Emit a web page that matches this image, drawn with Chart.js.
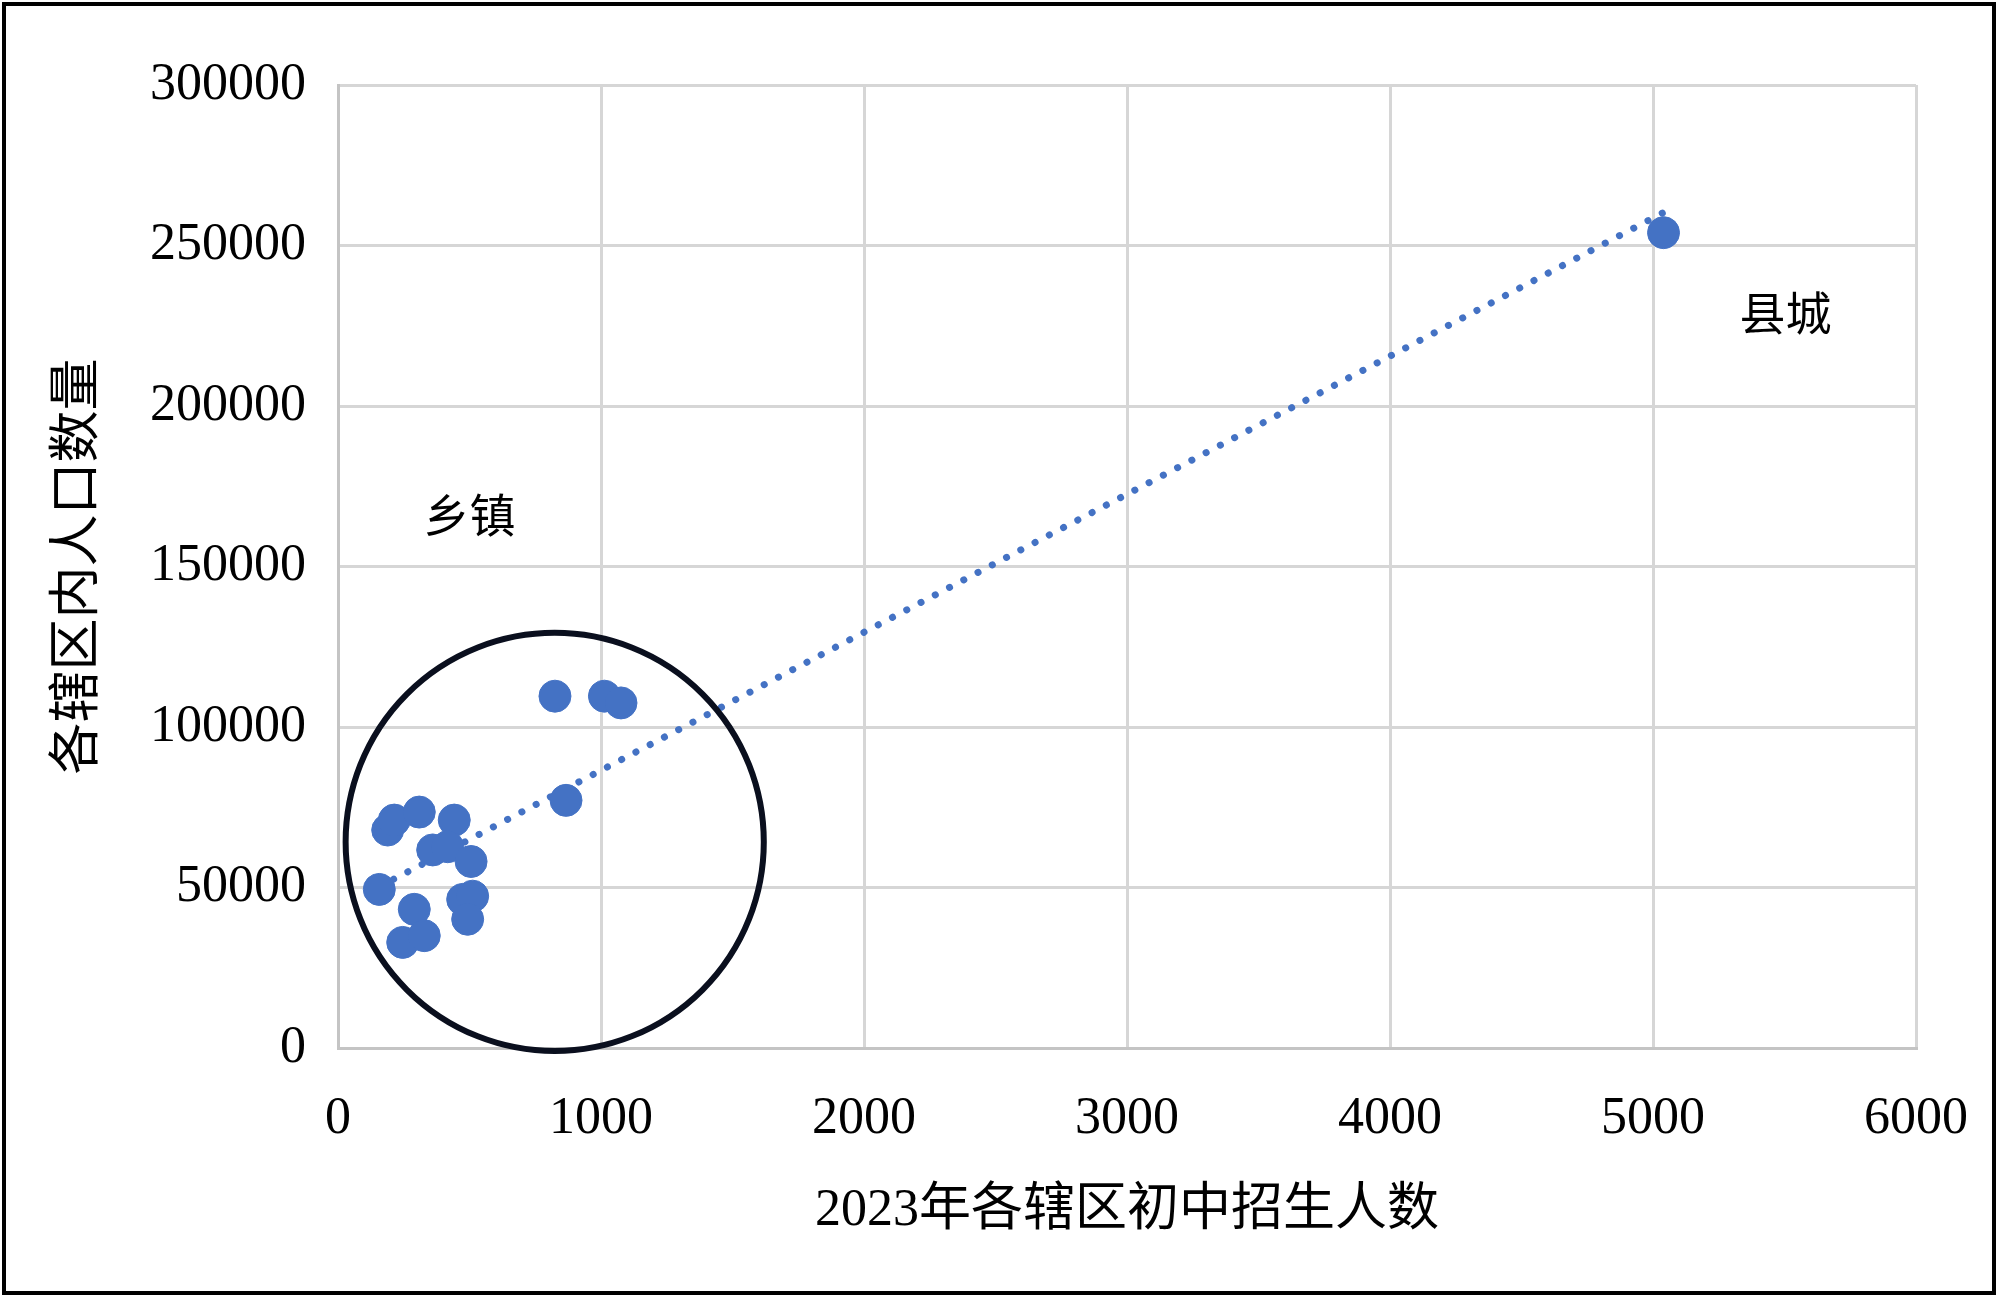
<!DOCTYPE html>
<html>
<head>
<meta charset="utf-8">
<script src="https://cdn.jsdelivr.net/npm/chart.js@4/dist/chart.umd.min.js"></script>
<style>
  html, body { margin: 0; padding: 0; background: #fff; }
  #wrap { position: relative; width: 2000px; height: 1299px; }
  #frame { position: absolute; left: 2px; top: 2px; width: 1994px; height: 1293px; border: 4px solid #000; box-sizing: border-box; pointer-events: none; }
</style>
</head>
<body>
<div id="wrap">
  <canvas id="myChart" width="2000" height="1299"></canvas>
  <div id="frame"></div>
</div>
<script>
// Data
const enrollment = [5040, 825, 1013, 1076, 867, 157, 189, 214, 309, 442, 360, 417, 506, 474, 512, 493, 290, 246, 328];
const population = [254000, 109600, 109600, 107500, 77150, 49400, 67900, 71000, 73500, 71000, 61700, 62700, 58100, 46300, 47300, 40100, 43200, 32900, 35000];

const xMax = 6000, xStep = 1000;
const yMax = 300000, yStep = 50000;

const xTitle = "2023年各辖区初中招生人数";
const yTitle = "各辖区内人口数量";

const points = enrollment.map((x, i) => ({ x: x, y: population[i] }));

// linear trendline (least squares), spanning min..max x like Excel
const n = enrollment.length;
const mx = enrollment.reduce((a, b) => a + b, 0) / n;
const my = population.reduce((a, b) => a + b, 0) / n;
let sxy = 0, sxx = 0;
enrollment.forEach((x, i) => { sxy += (x - mx) * (population[i] - my); sxx += (x - mx) * (x - mx); });
const slope = sxy / sxx;
const intercept = my - slope * mx;
const x0 = Math.min(...enrollment), x1 = Math.max(...enrollment);
const trend = [{ x: x0, y: intercept + slope * x0 }, { x: x1, y: intercept + slope * x1 }];

const font = "'Liberation Serif', 'Times New Roman', 'Noto Sans CJK SC', serif";
const blue = "#4472C4";

// circle around the towns and the two text notes
const notes = {
    id: "notes",
    afterDatasetsDraw(chart) {
        const { ctx, scales: { x, y } } = chart;
        ctx.save();
        const cx = x.getPixelForValue(824), cy = y.getPixelForValue(64200);
        const r = x.getPixelForValue(824 + 795) - cx;
        ctx.beginPath();
        ctx.arc(cx, cy, r, 0, Math.PI * 2);
        ctx.lineWidth = 6;
        ctx.strokeStyle = "#0a0f1e";
        ctx.stroke();

        ctx.fillStyle = "#000";
        ctx.font = "46px " + font;
        ctx.textAlign = "center";
        ctx.textBaseline = "middle";
        ctx.fillText("乡镇", x.getPixelForValue(500), y.getPixelForValue(164500));
        ctx.fillText("县城", x.getPixelForValue(5504), y.getPixelForValue(227300));
        ctx.restore();
    }
};

const config = {
    type: "scatter",
    data: {
        datasets: [{
            data: points,
            backgroundColor: blue,
            borderColor: blue,
            pointRadius: 16,
            pointHoverRadius: 16,
            order: 1
        }, {
            type: "line",
            data: trend,
            showLine: true,
            borderColor: blue,
            borderWidth: 7,
            borderDash: [0.1, 16],
            borderCapStyle: "round",
            pointRadius: 0,
            fill: false,
            order: 2
        }]
    },
    options: {
        responsive: false,
        animation: false,
        layout: { padding: { left: 0, top: 85, right: 84, bottom: 0 } },
        plugins: { legend: { display: false }, tooltip: { enabled: false } },
        scales: {
            x: {
                type: "linear",
                min: 0,
                max: xMax,
                ticks: { stepSize: xStep, color: "#000", padding: 40, font: { family: font, size: 52 }, callback: v => String(v) },
                grid: { color: "#d6d6d6", lineWidth: 3, drawTicks: false },
                border: { color: "#c4c4c4", width: 3 },
                title: { display: true, text: xTitle, color: "#000", font: { family: font, size: 52 }, padding: { top: 0, bottom: 56 } },
                afterFit(scale) {
                    scale.height = 251;
                    scale.paddingLeft = 0;
                    scale.paddingRight = 0;
                }
            },
            y: {
                min: 0,
                max: yMax,
                ticks: { stepSize: yStep, color: "#000", padding: 32, font: { family: font, size: 52 }, callback: v => String(v) },
                grid: { color: "#d6d6d6", lineWidth: 3, drawTicks: false },
                border: { color: "#c4c4c4", width: 3 },
                title: { display: true, text: yTitle, color: "#000", font: { family: font, size: 52 }, padding: { top: 48, bottom: 0 } },
                afterFit(scale) {
                    scale.width = 338;
                    scale.paddingTop = 0;
                    scale.paddingBottom = 0;
                }
            }
        }
    },
    plugins: [notes]
};

const chart = new Chart(document.getElementById("myChart"), config);
</script>
</body>
</html>
